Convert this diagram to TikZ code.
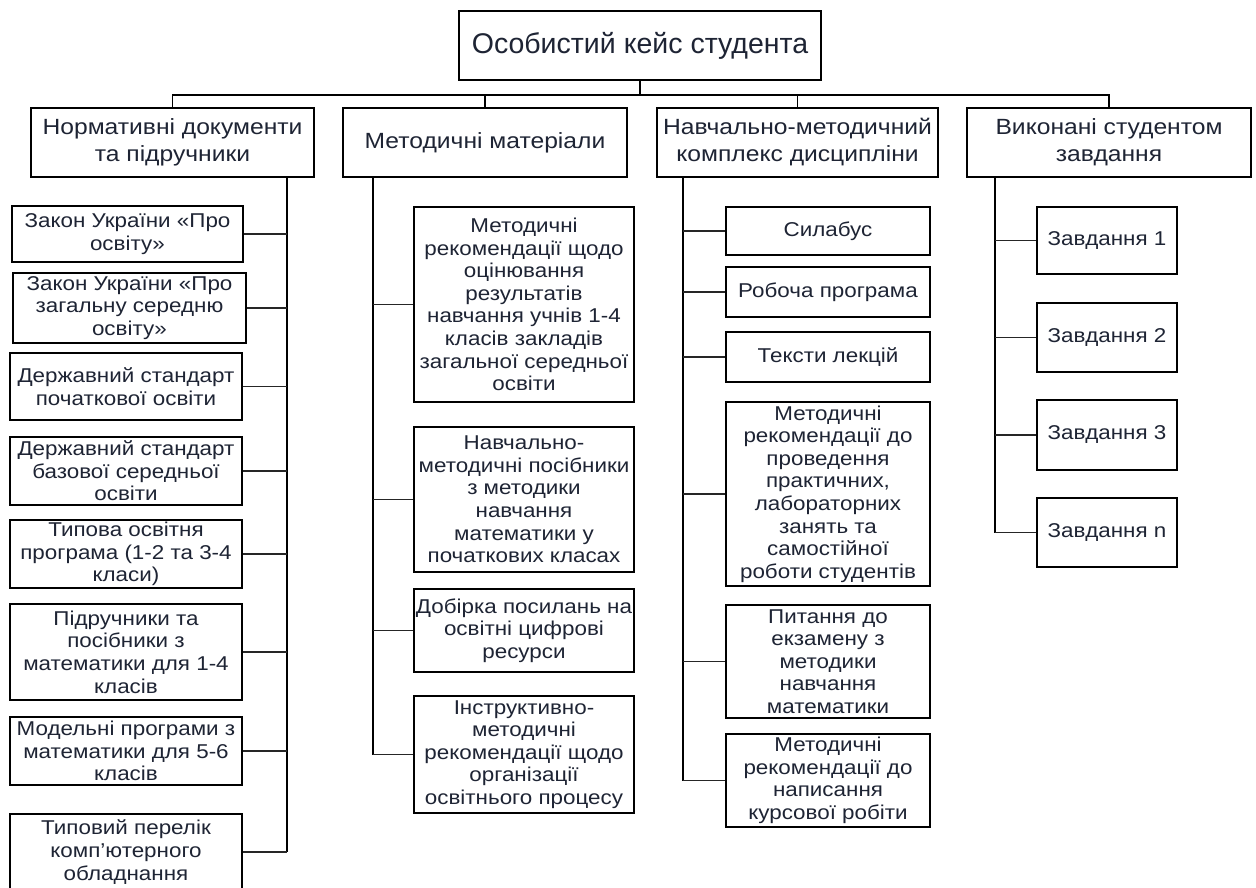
\documentclass[tikz,border=0pt]{standalone}
\usepackage{fontspec}
\setmainfont{Liberation Sans}
\newfontfamily\widefont[FakeStretch=1.12]{Liberation Sans}
\definecolor{tc}{RGB}{30,36,52}
\tikzset{
  box/.style={draw=black, line width=1.6pt, inner sep=0pt, align=center, text=tc, fill=white},
  leaf/.style={box, font=\widefont\fontsize{20}{22.6}\selectfont},
  head/.style={box, font=\widefont\fontsize{22}{27}\selectfont},
  titlebox/.style={box, font=\fontsize{28.5}{32}\selectfont},
  spine/.style={draw=black, line width=2.3pt},
  conn/.style={draw=black!85, line width=1.6pt},
  busline/.style={draw=black, line width=1.6pt},
}
\newcommand\mybox[7]{%
  \node[#1, minimum width={(#5-#3)*1pt}, minimum height={(#6-#4)*1pt}] (#2) at ({(#3+#5)/2},{(#4+#6)/2}) {#7};}
\begin{document}
\begin{tikzpicture}[x=1pt,y=-1pt]
\fill[white] (0,0) rectangle (1256,887);
\useasboundingbox (0,0) rectangle (1256,887);

% title
\mybox{titlebox}{root}{459}{11}{821}{80}{Особистий кейс студента}

% level 1
\mybox{head}{hA}{31}{108}{314}{177}{Нормативні документи\\та підручники}
\mybox{head}{hB}{343}{108}{627}{177}{Методичні матеріали}
\mybox{head}{hC}{657}{108}{938}{177}{Навчально-методичний\\комплекс дисципліни}
\mybox{head}{hD}{967}{108}{1251}{177}{Виконані студентом\\завдання}

\coordinate (bus) at (0,95);
\draw[spine] (root.south) -- (root.south |- bus);
\draw[busline] (hA.north) -- (hA.north |- bus) -- (hD.north |- bus) -- (hD.north);
\draw[busline] (hB.north) -- (hB.north |- bus);
\draw[busline] (hC.north) -- (hC.north |- bus);

% column 1
\mybox{leaf}{a1}{12}{206}{243}{262}{Закон України «Про\\освіту»}
\mybox{leaf}{a2}{13}{273}{246}{343}{Закон України «Про\\загальну середню\\освіту»}
\mybox{leaf}{a3}{10}{353}{242}{420}{Державний стандарт\\початкової освіти}
\mybox{leaf}{a4}{10}{437}{242}{505}{Державний стандарт\\базової середньої\\освіти}
\mybox{leaf}{a5}{10}{520}{242}{588}{Типова освітня\\програма (1-2 та 3-4\\класи)}
\mybox{leaf}{a6}{10}{604}{242}{700}{Підручники та\\посібники з\\математики для 1-4\\класів}
\mybox{leaf}{a7}{10}{717}{242}{785}{Модельні програми з\\математики для 5-6\\класів}
\mybox{leaf}{a8}{10}{814}{242}{890}{Типовий перелік\\комп’ютерного\\обладнання}

\coordinate (sA) at (287,0);
\draw[spine] (hA.south -| sA) -- (a8.east -| sA);
\foreach \n in {a1,a2,a3,a4,a5,a6,a7,a8}{\draw[conn] (\n.east) -- (\n.east -| sA);}

% column 2
\mybox{leaf}{b1}{414}{207}{634}{402}{Методичні\\рекомендації щодо\\оцінювання\\результатів\\навчання учнів 1-4\\класів закладів\\загальної середньої\\освіти}
\mybox{leaf}{b2}{414}{427}{634}{572}{Навчально-\\методичні посібники\\з методики\\навчання\\математики у\\початкових класах}
\mybox{leaf}{b3}{414}{589}{634}{672}{Добірка посилань на\\освітні цифрові\\ресурси}
\mybox{leaf}{b4}{414}{696}{634}{813}{Інструктивно-\\методичні\\рекомендації щодо\\організації\\освітнього процесу}

\coordinate (sB) at (373,0);
\draw[spine] (hB.south -| sB) -- (b4.west -| sB);
\foreach \n in {b1,b2,b3,b4}{\draw[conn] (\n.west -| sB) -- (\n.west);}

% column 3
\mybox{leaf}{c1}{726}{207}{930}{255}{Силабус}
\mybox{leaf}{c2}{726}{267}{930}{317}{Робоча програма}
\mybox{leaf}{c3}{726}{332}{930}{382}{Тексти лекцій}
\mybox{leaf}{c4}{726}{402}{930}{586}{Методичні\\рекомендації до\\проведення\\практичних,\\лабораторних\\занять та\\самостійної\\роботи студентів}
\mybox{leaf}{c5}{726}{605}{930}{718}{Питання до\\екзамену з\\методики\\навчання\\математики}
\mybox{leaf}{c6}{726}{734}{930}{827}{Методичні\\рекомендації до\\написання\\курсової робіти}

\coordinate (sC) at (683,0);
\draw[spine] (hC.south -| sC) -- (c6.west -| sC);
\foreach \n in {c1,c2,c3,c4,c5,c6}{\draw[conn] (\n.west -| sC) -- (\n.west);}

% column 4
\mybox{leaf}{d1}{1037}{207}{1177}{274}{Завдання 1}
\mybox{leaf}{d2}{1037}{303}{1177}{372}{Завдання 2}
\mybox{leaf}{d3}{1037}{400}{1177}{470}{Завдання 3}
\mybox{leaf}{d4}{1037}{498}{1177}{567}{Завдання n}

\coordinate (sD) at (995,0);
\draw[spine] (hD.south -| sD) -- (d4.west -| sD);
\foreach \n in {d1,d2,d3,d4}{\draw[conn] (\n.west -| sD) -- (\n.west);}
\end{tikzpicture}
\end{document}
